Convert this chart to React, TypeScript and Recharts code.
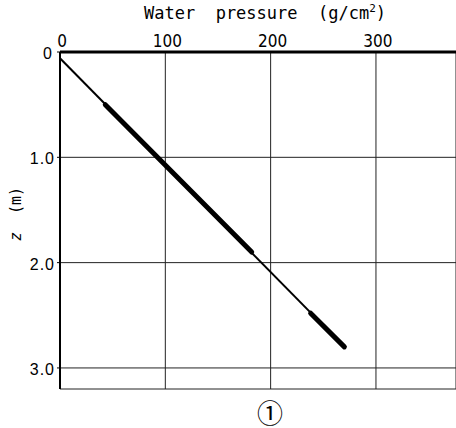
import React from "react";
import {
  ComposedChart,
  Line,
  XAxis,
  YAxis,
  CartesianGrid,
  Customized,
} from "recharts";

// pressure (g/cm2) vs depth z (m)
const lineP = [0, 270];
const lineZ = [0.06, 2.8];
// heavy (measured) stretches of the profile
const heavy1P = [43, 182];
const heavy1Z = [0.5, 1.9];
const heavy2P = [238, 270];
const heavy2Z = [2.48, 2.8];

const pTicks = [0, 100, 200, 300];
const zTicks = [0, 1, 2, 3];
const zTickLabels = ["0", "1.0", "2.0", "3.0"];

const toRows = (p: number[], z: number[]) => p.map((v, i) => ({ p: v, z: z[i] }));

const lineData = toRows(lineP, lineZ);
const heavy1 = toRows(heavy1P, heavy1Z);
const heavy2 = toRows(heavy2P, heavy2Z);

const NARROW = "'Liberation Sans Narrow', 'DejaVu Sans Condensed', sans-serif";
const SANS = "'Liberation Sans', Arial, sans-serif";
const MONO = "'DejaVu Sans Mono', monospace";

function TopTick(props: any) {
  const { x, payload } = props;
  return (
    <text x={x + 2} y={47} textAnchor="middle" fontFamily={NARROW} fontSize={17} fill="#000">
      {payload.value}
    </text>
  );
}

function LeftTick(props: any) {
  const { y, payload } = props;
  const idx = zTicks.indexOf(payload.value);
  return (
    <text
      x={payload.value === 0 ? 53 : 55}
      y={y + 7}
      textAnchor="end"
      fontFamily={SANS}
      fontSize={16}
      letterSpacing={1}
      fill="#000"
    >
      {zTickLabels[idx] ?? payload.value}
    </text>
  );
}

function Decorations() {
  return (
    <g>
      <text x={144} y={19} fontFamily={MONO} fontSize={17} fill="#000" style={{ whiteSpace: "pre" }}>
        Water  pressure  (g/cm
        <tspan fontSize={11} dy={-7}>2</tspan>
        <tspan dy={7}>)</tspan>
      </text>
      <text
        x={16}
        y={214}
        transform="rotate(-90, 16, 214)"
        textAnchor="middle"
        dominantBaseline="central"
        fontFamily={MONO}
        fontSize={15}
        fill="#000"
        style={{ whiteSpace: "pre" }}
      >
        <tspan fontStyle="italic">z</tspan>  (m)
      </text>
      <text
        x={270}
        y={411}
        textAnchor="middle"
        dominantBaseline="central"
        fontFamily="'Noto Sans CJK JP', 'Noto Sans CJK SC', sans-serif"
        fontSize={26}
        fill="#000"
      >
        ①
      </text>
    </g>
  );
}

export default function App() {
  return (
    <div style={{ position: "absolute", left: 0, top: 0, width: 456, height: 428, background: "#fff" }}>
      <ComposedChart width={456} height={428} margin={{ top: 0, right: 0, bottom: 39, left: 0 }}>
        <CartesianGrid stroke="#222" strokeWidth={1} />
        <XAxis
          xAxisId={0}
          type="number"
          dataKey="p"
          orientation="top"
          domain={[0, 376]}
          ticks={pTicks}
          allowDataOverflow
          height={52}
          axisLine={{ stroke: "#000", strokeWidth: 3 }}
          tickLine={false}
          tick={<TopTick />}
        />
        <YAxis
          yAxisId={0}
          type="number"
          dataKey="z"
          reversed
          domain={[0, 3.2]}
          ticks={zTicks}
          allowDataOverflow
          width={60}
          axisLine={{ stroke: "#000", strokeWidth: 2 }}
          tickLine={{ stroke: "#000" }}
          tickSize={3}
          tick={<LeftTick />}
        />
        <Line
          data={lineData}
          dataKey="z"
          type="linear"
          stroke="#000"
          strokeWidth={2}
          dot={false}
          isAnimationActive={false}
        />
        <Line
          data={heavy1}
          dataKey="z"
          type="linear"
          stroke="#000"
          strokeWidth={5}
          strokeLinecap="round"
          dot={false}
          isAnimationActive={false}
        />
        <Line
          data={heavy2}
          dataKey="z"
          type="linear"
          stroke="#000"
          strokeWidth={5}
          strokeLinecap="round"
          dot={false}
          isAnimationActive={false}
        />
        <Customized component={Decorations} />
      </ComposedChart>
    </div>
  );
}
